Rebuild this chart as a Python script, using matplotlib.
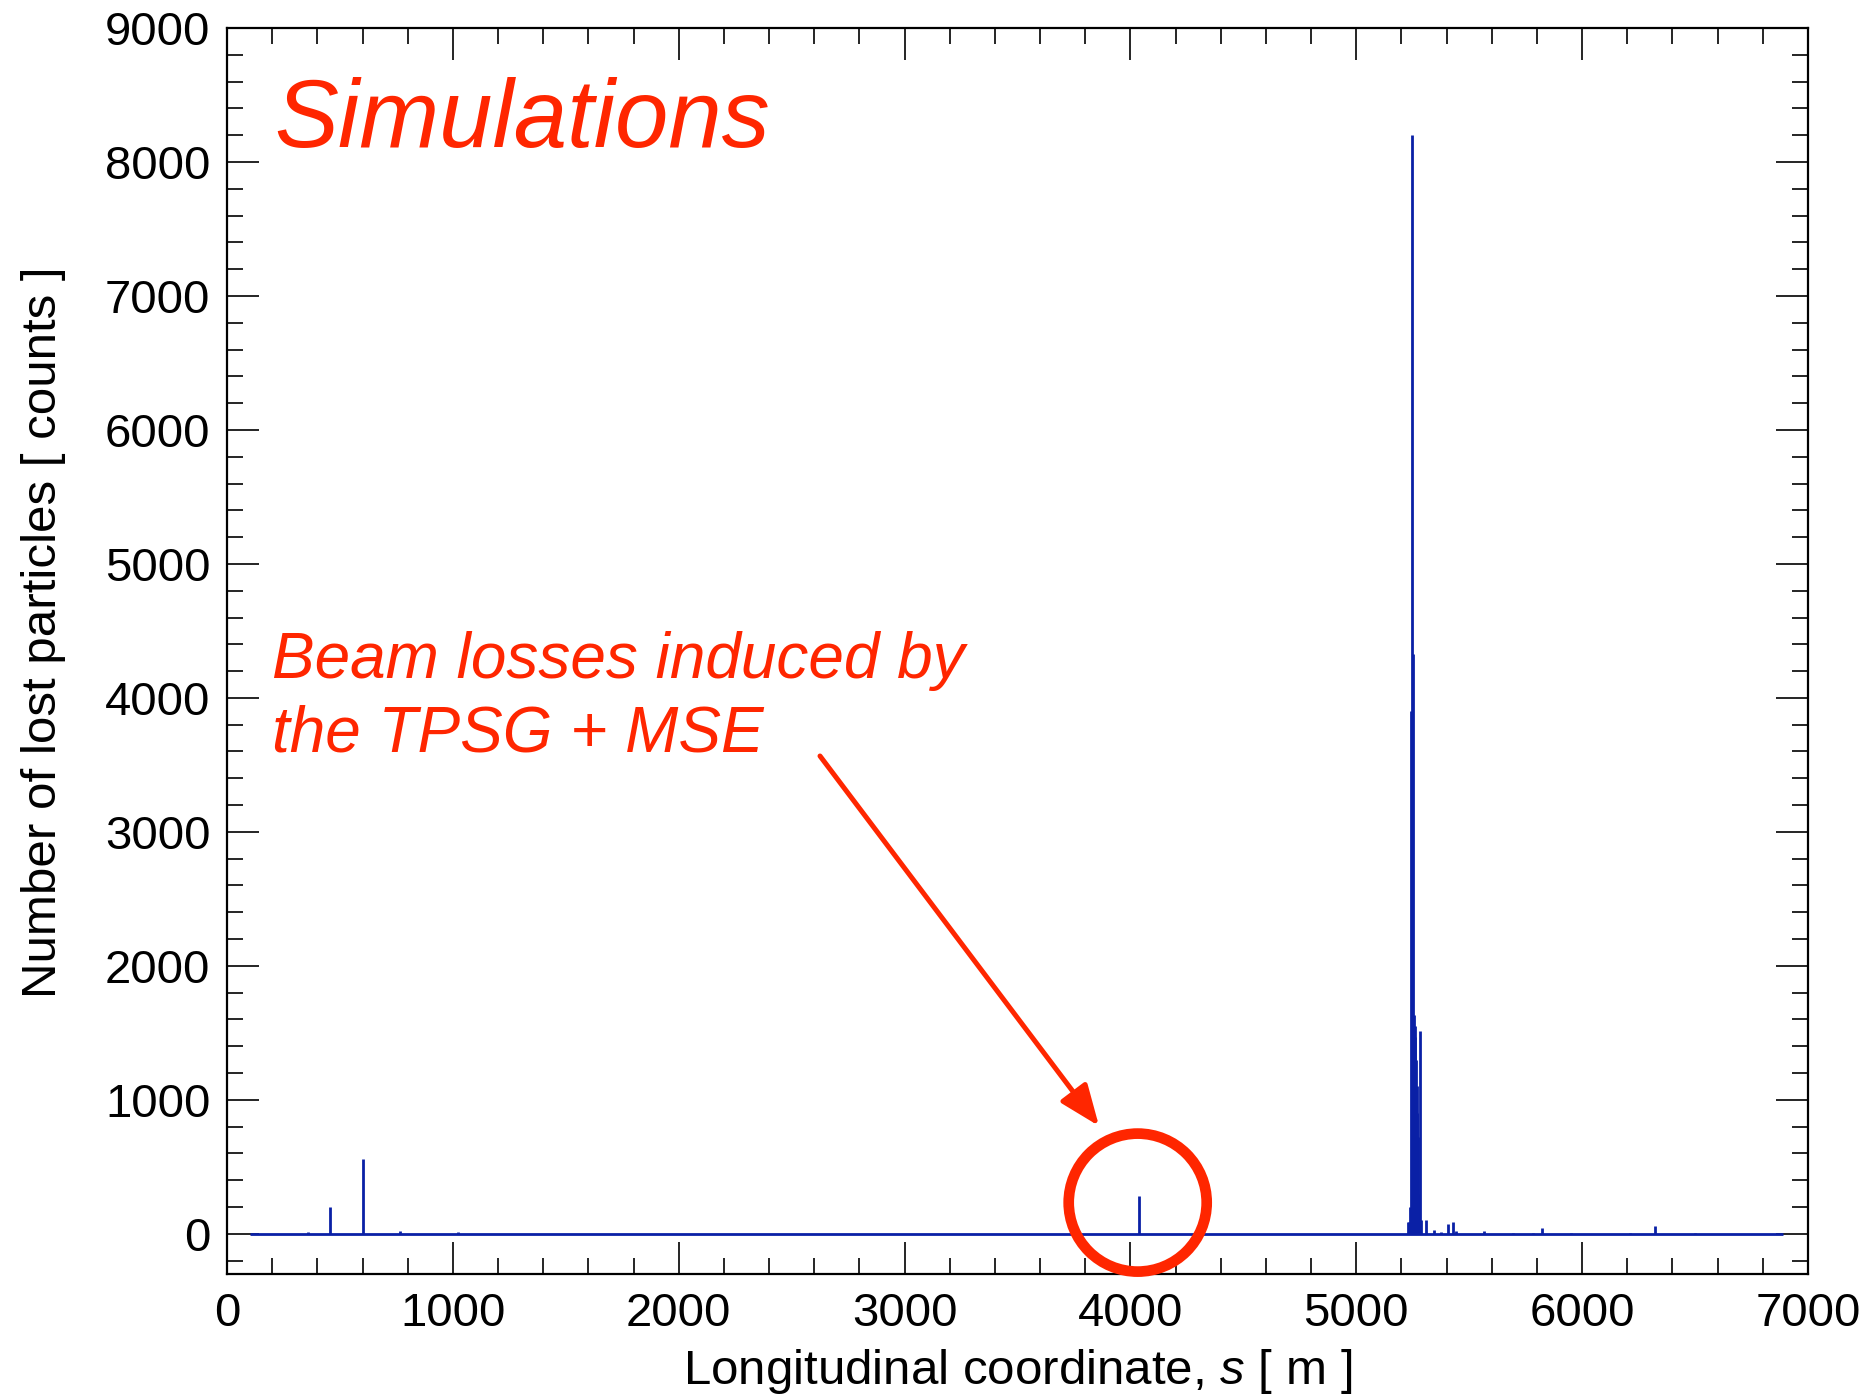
import matplotlib
matplotlib.use("Agg")
import matplotlib.pyplot as plt
from matplotlib.patches import Ellipse
from matplotlib.ticker import MultipleLocator

# ---- data ----
baseline_s = [100, 6890]          # extent of the zero-loss baseline [m]
spike_s = [357, 455, 601, 765, 1021, 4037,
           5229, 5233, 5239, 5244, 5248, 5251, 5255, 5258, 5262, 5265, 5268,
           5271, 5274, 5278, 5284, 5288, 5310, 5343, 5374, 5407, 5427, 5440,
           5565, 5693, 5781, 5824, 5949, 6211, 6321, 6498]
spike_counts = [10, 200, 560, 20, 15, 280,
                90, 90, 200, 3900, 8200, 4330, 1630, 1550, 1470, 1300, 1100,
                900, 720, 300, 1510, 100, 100, 30, 10, 75, 87, 22,
                22, 8, 5, 42, 3, 3, 60, 3]

x_ticks = [0, 1000, 2000, 3000, 4000, 5000, 6000, 7000]
y_ticks = [0, 1000, 2000, 3000, 4000, 5000, 6000, 7000, 8000, 9000]

BLUE = "#0a20a6"
RED = "#ff2600"

plt.rcParams["font.family"] = ["Liberation Sans", "DejaVu Sans"]
plt.rcParams["mathtext.fontset"] = "custom"
plt.rcParams["mathtext.rm"] = "Liberation Sans"
plt.rcParams["mathtext.it"] = "Liberation Sans:italic"

W, H = 1871, 1394
fig = plt.figure(figsize=(W / 100, H / 100), dpi=100)
ax = fig.add_axes([227 / W, 1 - 1274 / H, (1808 - 227) / W, (1274 - 28) / H])

ax.plot(baseline_s, [0, 0], color=BLUE, lw=2.0, solid_capstyle="butt")
ax.vlines(spike_s, 0, spike_counts, color=BLUE, lw=2.0)

ax.set_xlim(0, 7000)
ax.set_ylim(-300, 9000)
ax.set_xticks(x_ticks)
ax.set_yticks(y_ticks)
ax.xaxis.set_minor_locator(MultipleLocator(200))
ax.yaxis.set_minor_locator(MultipleLocator(200))
ax.tick_params(which="both", direction="in", top=True, right=True, colors="black")
ax.tick_params(which="major", length=23, width=1.2)
ax.tick_params(which="minor", length=11.5, width=1.2)
ax.tick_params(axis="x", which="major", labelsize=34, pad=13)
ax.tick_params(axis="y", which="major", labelsize=34, pad=12)
for sp in ax.spines.values():
    sp.set_linewidth(1.6)

ax.set_xlabel(r"Longitudinal coordinate, $\mathit{s}$ [ m ]", fontsize=35.5)
ax.set_ylabel("Number of lost particles [ counts ]", fontsize=35.5)
ax.xaxis.set_label_coords(0.5, -(1372 - 1274) / (1274 - 28))
ax.xaxis.label.set_va("center")
ax.yaxis.set_label_coords(-(227 - 44) / (1808 - 227), 0.515)
ax.yaxis.label.set_va("center")

fig.text(274 / W, 1 - 147 / H, "Simulations", fontsize=69, style="italic",
         color=RED, ha="left", va="baseline")
fig.text(272 / W, 1 - 678 / H, "Beam losses induced by", fontsize=46,
         style="italic", color=RED, ha="left", va="baseline")
fig.text(272 / W, 1 - 752 / H, "the TPSG + MSE", fontsize=46,
         style="italic", color=RED, ha="left", va="baseline")

ax.annotate("", xy=(1099 / W, 1 - 1126 / H), xycoords="figure fraction",
            xytext=(820 / W, 1 - 756 / H), textcoords="figure fraction",
            arrowprops=dict(arrowstyle="-|>,head_length=1.25,head_width=0.5",
                            mutation_scale=20, color=RED, lw=3.6,
                            shrinkA=0, shrinkB=0))

circ = Ellipse((1137.7 / W, 1 - 1202.6 / H), 2 * 69 / W, 2 * 69 / H,
               transform=fig.transFigure, fill=False, edgecolor=RED,
               lw=7.7, clip_on=False)
fig.add_artist(circ)

fig.savefig("out.png", dpi=100)
